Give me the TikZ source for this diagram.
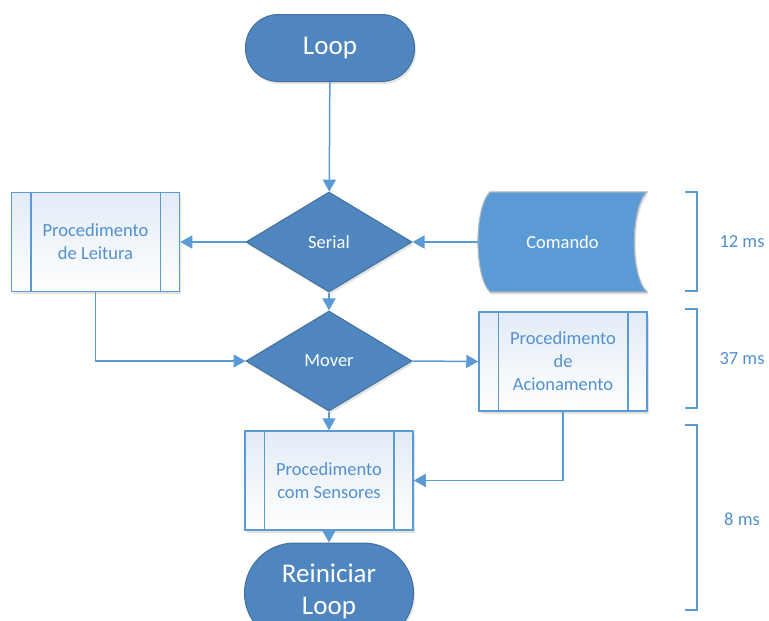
\documentclass[tikz,border=0pt]{standalone}
\usepackage{fontspec}
\setmainfont{Carlito}
\usetikzlibrary{arrows.meta,shapes.geometric,shadows}

\definecolor{termblue}{HTML}{4F86BF}
\definecolor{termedge}{HTML}{41719C}
\definecolor{accent}{HTML}{5B9BD5}
\definecolor{boxtext}{HTML}{5290CE}
\definecolor{boxtint}{HTML}{E2EBF6}
\definecolor{dataedge}{HTML}{A8B4C0}

\newcommand\txtS{\fontsize{18.5pt}{23pt}\selectfont}
\newcommand\txtL{\fontsize{27pt}{33pt}\selectfont}

\tikzset{
  softshadow/.style={drop shadow={shadow xshift=1.5pt, shadow yshift=-2.5pt, opacity=0.18, fill=black!60}},
  terminal/.style={draw=termedge, line width=1pt, fill=termblue, text=white,
    minimum width=169pt, rounded corners=#1, inner sep=0pt, align=center,
    font=\txtL, softshadow},
  decision/.style={diamond, draw=termedge, line width=1pt, fill=termblue, text=white,
    minimum width=166pt, minimum height=100pt, inner sep=0pt, font=\txtS, softshadow},
  proc/.style={draw=accent, line width=1.5pt, left color=boxtint, right color=white,
    shading angle=0, minimum width=168pt, minimum height=99pt, inner sep=0pt,
    text=boxtext, align=center, font=\txtS, softshadow},
  sideline/.style={draw=accent, line width=1.5pt},
  conn/.style={draw=accent, line width=1.5pt, -{Triangle[width=13pt,length=12pt]}},
  bracket/.style={draw=accent, line width=2pt},
  timing/.style={text=boxtext, font=\txtS},
}

\begin{document}
\begin{tikzpicture}[x=1pt,y=-1pt]
\useasboundingbox (0,0) rectangle (769,621);
\clip (0,0) rectangle (769,621);

% start / end terminals
\node[terminal=33pt, minimum height=67pt] (loop) at (330,48) {Loop};
\node[terminal=50pt, minimum height=100pt, text depth=0pt] (reinic) at (329,593)
  {\raisebox{28pt}{\begin{tabular}{@{}c@{}}Reiniciar\\[-1pt]Loop\end{tabular}}};

% decisions
\node[decision] (serial) at (329,242) {Serial};
\node[decision] (mover) at (329,361) {Mover};

% stored-data shape for the command input
\path[draw=dataedge, line width=1.2pt, fill=accent, softshadow]
  (490,192) -- (647,192) .. controls (630,208) and (630,276) .. (647,292)
  -- (490,292) .. controls (474,276) and (474,208) .. (490,192) -- cycle;
\node[minimum width=169pt, minimum height=100pt, inner sep=0pt, text=white, font=\txtS]
  (cmd) at (562.5,242) {Comando};

% predefined processes
\node[proc] (leit) at (95.5,242) {Procedimento\\de Leitura};
\node[proc] (acio) at (563,361.5) {Procedimento\\de\\Acionamento};
\node[proc] (sens) at (329,480.5) {Procedimento\\com Sensores};
\foreach \n in {leit,acio,sens}{
  \draw[sideline] ([xshift=20pt]\n.north west) -- ([xshift=20pt]\n.south west);
  \draw[sideline] ([xshift=-20pt]\n.north east) -- ([xshift=-20pt]\n.south east);
}

% flow
\draw[conn] (loop) -- (serial);
\draw[conn] (serial.west) -- (leit.east);
\draw[conn] (cmd.west) -- (serial.east);
\draw[conn] (serial) -- (mover);
\draw[conn] (leit.south) |- (mover.west);
\draw[conn] (mover.east) -- (acio.west);
\draw[conn] (mover) -- (sens);
\draw[conn] (acio.south) |- (sens.east);
\draw[conn] (sens) -- (reinic);

% timing brackets
\draw[bracket] (685,192) -- (697,192) -- (697,291) -- (685,291);
\node[timing] (t12) at (742,242) {12 ms};
\draw[bracket] (685,309) -- (697,309) -- (697,408) -- (685,408);
\node[timing] (t37) at (742,359) {37 ms};
\draw[bracket] (685,425) -- (697,425) -- (697,610) -- (685,610);
\node[timing] (t8) at (742,519) {8 ms};
\end{tikzpicture}
\end{document}
